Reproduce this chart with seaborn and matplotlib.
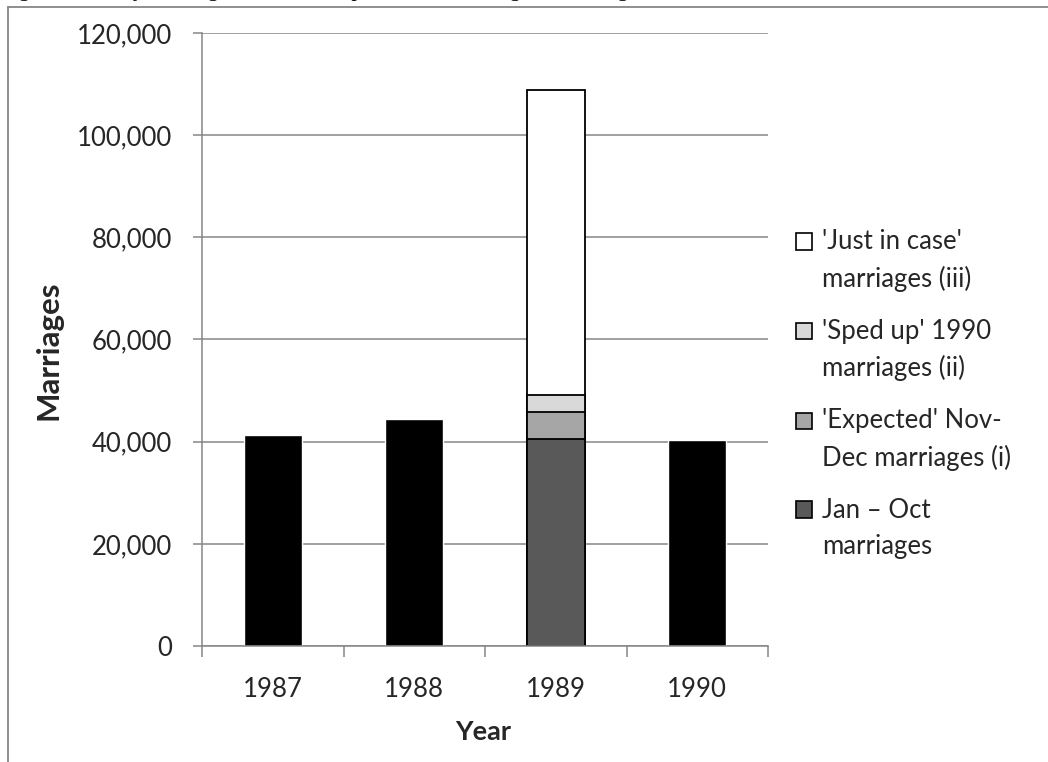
import numpy as np
import matplotlib
matplotlib.use("Agg")
import matplotlib.pyplot as plt
import seaborn as sns
from matplotlib.patches import Patch, Rectangle
from matplotlib.lines import Line2D
from matplotlib.legend_handler import HandlerPatch
from matplotlib.ticker import FuncFormatter, MultipleLocator

# ---- data -------------------------------------------------------------
years = ["1987", "1988", "1989", "1990"]
plain_years = ["1987", "1988", "1990"]
plain_totals = [41400, 44400, 40400]

surge_year = "1989"
jan_oct_1989 = 40600
expected_nov_dec_1989 = 5150
sped_up_1990_in_1989 = 3400
just_in_case_1989 = 59700

component_labels = [
    "Jan \u2013 Oct\nmarriages",
    "'Expected' Nov-\nDec marriages (i)",
    "'Sped up' 1990\nmarriages (ii)",
    "'Just in case'\nmarriages (iii)",
]
component_colors = ["#595959", "#a6a6a6", "#d9d9d9", "#ffffff"]
component_values = [jan_oct_1989, expected_nov_dec_1989,
                    sped_up_1990_in_1989, just_in_case_1989]

# ---- style --------------------------------------------------------------
sns.set_theme(style="white")
plt.rcParams["font.family"] = ["Lato", "DejaVu Sans"]
GRID = "#868686"
FS = 18.5

fig = plt.figure(figsize=(10.48, 7.62), dpi=100)
ax = fig.add_axes([202 / 1048, 116 / 762, 566 / 1048, 613 / 762])

# stacked 1989 column: draw cumulative heights from the top down
tops = np.cumsum(component_values)
for top, color in reversed(list(zip(tops, component_colors))):
    sns.barplot(x=[surge_year], y=[top], order=years, color=color,
                saturation=1, edgecolor="black", linewidth=1.3,
                width=0.41, ax=ax)

# single-colour annual totals
sns.barplot(x=plain_years, y=plain_totals, order=years, color="black",
            saturation=1, width=0.41, ax=ax)

# ---- axes ----------------------------------------------------------------
ax.set_xlim(-0.5, 3.5)
ax.set_ylim(0, 120000)
ax.yaxis.set_major_locator(MultipleLocator(20000))
ax.yaxis.set_major_formatter(FuncFormatter(lambda v, _: f"{v:,.0f}"))
ax.set_axisbelow(True)
ax.yaxis.grid(True, color=GRID, linewidth=1.1)
ax.xaxis.grid(False)

ax.set_xticks([-0.5, 0.5, 1.5, 2.5, 3.5], labels=[""] * 5)
ax.set_xticks(range(len(years)), labels=years, minor=True)
ax.tick_params(axis="x", which="major", direction="out", length=8,
               width=1.1, color=GRID, bottom=True)
ax.tick_params(axis="x", which="minor", length=0, pad=22, labelsize=FS,
               bottom=True)
ax.tick_params(axis="y", direction="out", length=6.5, width=1.1,
               color=GRID, pad=15, labelsize=FS, left=True)

for side in ("top", "right"):
    ax.spines[side].set_visible(False)
for side in ("left", "bottom"):
    ax.spines[side].set_color(GRID)
    ax.spines[side].set_linewidth(1.1)

ax.set_ylabel("Marriages", fontsize=22.5, fontweight="bold")
ax.yaxis.set_label_coords(-0.247, 0.482)
ax.set_xlabel("Year", fontsize=19.5, fontweight="bold")
ax.xaxis.set_label_coords(0.496, -0.121)

# ---- legend: squares sit beside the first line of each label --------------
LINE_SPACING = 1.54


def raised_square(legend, orig_handle, xdescent, ydescent, width, height,
                  fontsize):
    shift = 0.5 * LINE_SPACING * fontsize
    return Rectangle((-xdescent, -ydescent + shift), width, height)


handles = [Patch(facecolor=c, edgecolor="black", linewidth=1.2)
           for c in component_colors]
order = list(reversed(range(len(handles))))
leg = ax.legend([handles[i] for i in order],
                [component_labels[i] for i in order],
                loc="upper left", bbox_to_anchor=(796 / 1048, 1 - 229 / 762),
                bbox_transform=fig.transFigure, frameon=False,
                borderpad=0, borderaxespad=0, handletextpad=0.4,
                labelspacing=1.06, handlelength=0.62, handleheight=0.62,
                fontsize=FS,
                handler_map={Patch: HandlerPatch(patch_func=raised_square)})
for t in leg.get_texts():
    t.set_linespacing(LINE_SPACING)

# ---- chart frame and caption line ------------------------------------------
fig.add_artist(Line2D([8 / 1048, 1.0], [755 / 762, 755 / 762],
                      transform=fig.transFigure, color=GRID, linewidth=1.3))
fig.add_artist(Line2D([8 / 1048, 8 / 1048], [0.0, 755 / 762],
                      transform=fig.transFigure, color=GRID, linewidth=1.3))
fig.text(0.0, 1.0 + 3.8 / 762,
         "Figure 2: Yearly marriages and the components of the surge in marriages, 1987\u20131990",
         family=["Liberation Serif", "DejaVu Serif"], fontsize=16,
         va="baseline", ha="left", color="black")

fig.savefig("out.png", dpi=100)
